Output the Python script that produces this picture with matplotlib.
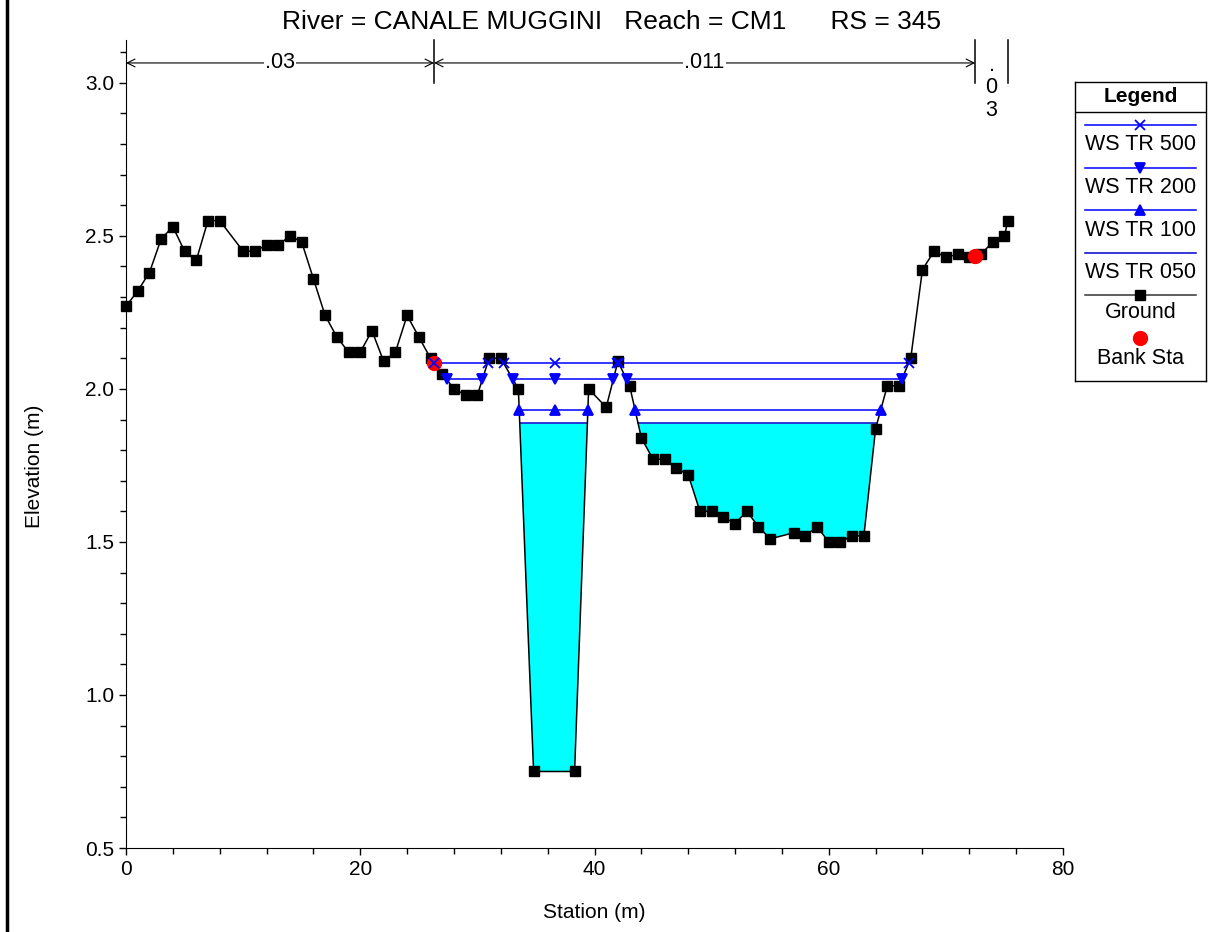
import numpy as np
import matplotlib
matplotlib.use("Agg")
import matplotlib.pyplot as plt
from matplotlib.ticker import MultipleLocator

plt.rcParams["font.family"] = ["Liberation Sans", "DejaVu Sans"]

# Données de la section
station = [0, 1, 2, 3, 4, 5, 6, 7, 8, 10, 11, 12, 13, 14, 15, 16, 17, 18, 19, 20,
           21, 22, 23, 24, 25, 26, 27, 28, 29, 30, 31, 32, 33.5, 34.8, 38.3, 39.5,
           41, 42, 43, 44, 45, 46, 47, 48, 49, 50, 51, 52, 53, 54, 55, 57, 58, 59,
           60, 61, 62, 63, 64, 65, 66, 67, 68, 69, 70, 71, 72, 73, 74, 75, 75.3]
elevation = [2.27, 2.32, 2.38, 2.49, 2.53, 2.45, 2.42, 2.55, 2.55, 2.45, 2.45, 2.47,
             2.47, 2.50, 2.48, 2.36, 2.24, 2.17, 2.12, 2.12, 2.19, 2.09, 2.12, 2.24,
             2.17, 2.10, 2.05, 2.00, 1.98, 1.98, 2.10, 2.10, 2.00, 0.75, 0.75, 2.00,
             1.94, 2.09, 2.01, 1.84, 1.77, 1.77, 1.74, 1.72, 1.60, 1.60, 1.58, 1.56,
             1.60, 1.55, 1.51, 1.53, 1.52, 1.55, 1.50, 1.50, 1.52, 1.52, 1.87, 2.01,
             2.01, 2.10, 2.39, 2.45, 2.43, 2.44, 2.43, 2.44, 2.48, 2.50, 2.55]
bank_sta = [26.3, 72.5]

ws_names = ["WS TR 500", "WS TR 200", "WS TR 100", "WS TR 050"]
ws_levels = [2.084, 2.031, 1.930, 1.887]
ws_markers = ["x", "v", "^", None]
mid_marker_sta = 36.6

# valeurs de Manning
n_sta = [0, 26.3, 72.5, 75.3]
n_vals = [".03", ".011", ".\n0\n3"]

sta = np.array(station)
elev = np.array(elevation)


def wet_segments(ws):
    segs = []
    start = None
    for i in range(len(sta) - 1):
        x0, x1, y0, y1 = sta[i], sta[i + 1], elev[i], elev[i + 1]
        if (y0 - ws) * (y1 - ws) < 0:
            xc = x0 + (ws - y0) * (x1 - x0) / (y1 - y0)
            if y1 < ws:
                start = xc
            elif start is not None:
                segs.append((start, xc))
                start = None
    return [s for s in segs if s[0] >= bank_sta[0] - 0.1 and s[1] <= bank_sta[1]]


W, H = 1215, 932
fig = plt.figure(figsize=(W / 100, H / 100), dpi=100)
ax = fig.add_axes([126 / W, 1 - 848 / H, (1063 - 126) / W, (848 - 40) / H])

# remplissage WS TR 050
ax.fill_between(sta, elev, ws_levels[3], where=elev < ws_levels[3],
                interpolate=True, color="#00ffff", lw=0, zorder=1)

for name, lev, mk in zip(ws_names, ws_levels, ws_markers):
    segs = wet_segments(lev)
    col = "#0000cc" if mk is None else "blue"
    for a, b in segs:
        ax.plot([a, b], [lev, lev], color=col, lw=1.1, zorder=2)
        if mk is not None:
            pts = [a, b]
            if a < mid_marker_sta < b:
                pts.append(mid_marker_sta)
            ax.plot(pts, [lev] * len(pts), ls="none", marker=mk, color="blue",
                    ms=7, mew=1.3, zorder=4)

ax.plot(sta, elev, color="black", lw=1.1, marker="s", ms=6.5, mfc="black",
        mec="black", zorder=3, clip_on=False)
ax.plot(bank_sta, np.interp(bank_sta, sta, elev), ls="none", marker="o",
        color="red", ms=10, zorder=3.5)

# annotations de Manning
y_ar = 3.065
for s in n_sta[1:]:
    ax.plot([s, s], [3.0, 3.14], color="black", lw=1.1, clip_on=False)
for i in range(2):
    ax.annotate("", xy=(n_sta[i], y_ar), xytext=(n_sta[i + 1], y_ar),
                arrowprops=dict(arrowstyle="<->", color="black", lw=0.8,
                                shrinkA=0, shrinkB=0, mutation_scale=14))
    ax.text((n_sta[i] + n_sta[i + 1]) / 2, y_ar, n_vals[i], ha="center",
            va="center", fontsize=15.5,
            bbox=dict(fc="white", ec="none", pad=1))
ax.text((n_sta[2] + n_sta[3]) / 2, y_ar + 0.027, n_vals[2], ha="center",
        va="top", fontsize=15.5, linespacing=1.1)

ax.set_xlim(0, 80)
ax.set_ylim(0.5, 3.14)
ax.xaxis.set_major_locator(MultipleLocator(20))
ax.xaxis.set_minor_locator(MultipleLocator(4))
ax.yaxis.set_major_locator(MultipleLocator(0.5))
ax.yaxis.set_minor_locator(MultipleLocator(0.1))
ax.yaxis.set_major_formatter(matplotlib.ticker.FormatStrFormatter("%.1f"))
ax.tick_params(which="major", length=5, width=1, labelsize=15)
ax.tick_params(which="minor", length=4, width=1)
for sp in ["top", "right"]:
    ax.spines[sp].set_visible(False)
ax.set_xlabel("Station (m)", fontsize=15)
ax.set_ylabel("Elevation (m)", fontsize=15)
ax.xaxis.set_label_coords(0.5, -(913 - 848) / 808, transform=ax.transAxes)
ax.yaxis.set_label_coords(-(126 - 35) / 937, (848 - 466) / 808)
ax.xaxis.label.set_va("center")
ax.yaxis.label.set_va("center")

fig.text(612 / W, 1 - 22 / H,
         "River = CANALE MUGGINI   Reach = CM1      RS = 345",
         ha="center", va="center", fontsize=19)

# bordure gauche
fig.add_artist(plt.Line2D([7 / W, 7 / W], [0, 1], color="black", lw=2.5))

# légende dessinée à la main
lx0, ly0, lw_, lh = 1075, 82, 131, 299
lg = fig.add_axes([lx0 / W, 1 - (ly0 + lh) / H, lw_ / W, lh / H])
lg.set_xlim(0, lw_)
lg.set_ylim(lh, 0)
lg.set_xticks([])
lg.set_yticks([])
for sp in lg.spines.values():
    sp.set_linewidth(1)
lg.text(lw_ / 2, 14, "Legend", ha="center", va="center", fontsize=15,
        fontweight="bold")
lg.axhline(30, color="black", lw=1)
entries = [("blue", "x"), ("blue", "v"), ("blue", "^"), ("#0000cc", None)]
for k, (name, (c, mk)) in enumerate(zip(ws_names, entries)):
    yl = 43 + 42.5 * k
    lg.plot([10, 121], [yl, yl], color=c, lw=1.1)
    if mk:
        lg.plot([65], [yl], marker=mk, color="blue", ms=7, mew=1.3)
    lg.text(lw_ / 2, yl + 20, name, ha="center", va="center", fontsize=15.5)
yl = 43 + 42.5 * 4
lg.plot([10, 121], [yl, yl], color="#333333", lw=1.1)
lg.plot([65], [yl], marker="s", color="black", ms=6.5)
lg.text(lw_ / 2, yl + 18, "Ground", ha="center", va="center", fontsize=15.5)
yl = 256
lg.plot([65], [yl], marker="o", color="red", ms=10)
lg.text(lw_ / 2, yl + 20, "Bank Sta", ha="center", va="center", fontsize=15.5)

fig.savefig("out.png", dpi=100)
